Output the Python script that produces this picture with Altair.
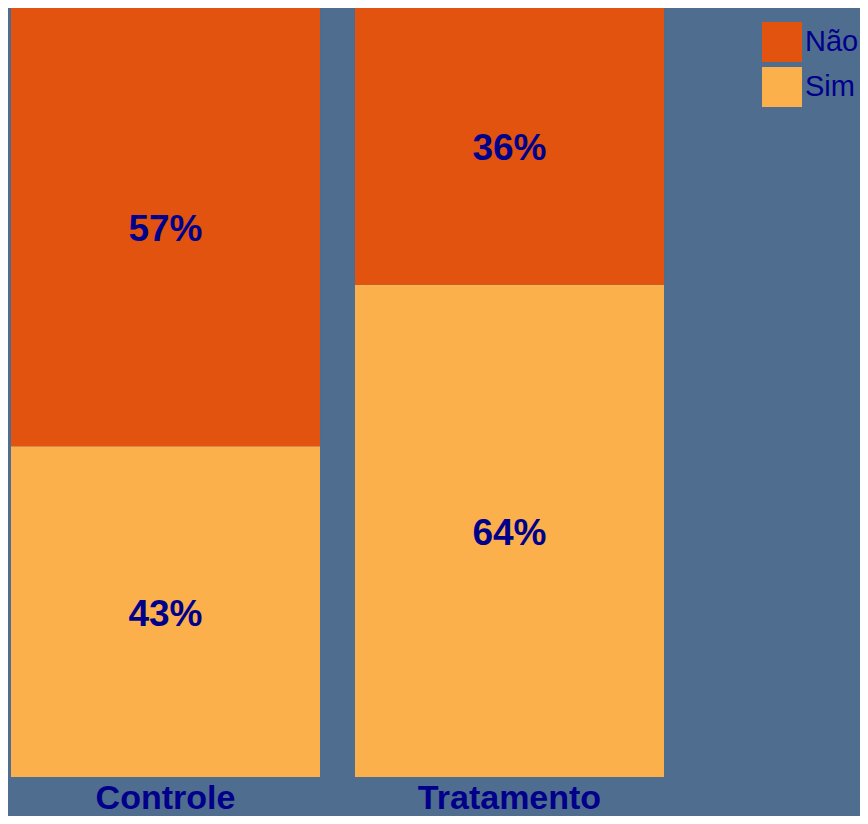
import altair as alt
import pandas as pd

groups = ["Controle", "Tratamento"]
nao = [57, 36]
sim = [43, 64]
respostas = ["Não", "Sim"]
colors = ["#E2530F", "#FCB04C"]

rows = []
for g, n, s in zip(groups, nao, sim):
    rows.append({"group": g, "resposta": "Sim", "pct": s, "ord": 0})
    rows.append({"group": g, "resposta": "Não", "pct": n, "ord": 1})
df = pd.DataFrame(rows)

navy = "#00008B"

base = alt.Chart(df).transform_stack(
    stack="pct", as_=["y0", "y1"], groupby=["group"], sort=[alt.SortField("ord")]
).transform_calculate(
    ymid="(datum.y0 + datum.y1) / 2",
    label="datum.pct + '%'"
)

x_enc = alt.X(
    "group:N",
    sort=groups,
    title=None,
    scale=alt.Scale(paddingInner=0.1017, paddingOuter=0.0087),
    axis=alt.Axis(labelAngle=0, labelFontSize=34, labelFontWeight="bold",
                  labelColor=navy, labelFont="Liberation Sans", domain=False,
                  ticks=False, labelPadding=4, labelLimit=0),
)

bars = base.mark_bar(stroke=None).encode(
    x=x_enc,
    y=alt.Y("y0:Q", scale=alt.Scale(domain=[0, 100]), axis=None),
    y2="y1:Q",
    color=alt.Color(
        "resposta:N",
        scale=alt.Scale(domain=respostas, range=colors),
        title=None,
        legend=alt.Legend(
            orient="none", legendX=754, legendY=14,
            symbolType="square", symbolSize=1600, symbolStrokeWidth=0,
            labelFontSize=29, labelColor=navy, labelFont="Liberation Sans",
            labelOffset=3, rowPadding=5,
        ),
    ),
)

texts = base.mark_text(
    fontSize=37, fontWeight="bold", color=navy, font="Liberation Sans",
    baseline="middle", dy=3
).encode(
    x=alt.X("group:N", sort=groups),
    y=alt.Y("ymid:Q"),
    text="label:N",
)

chart = alt.layer(bars, texts).properties(
    width=659, height=769,
    autosize=alt.AutoSizeParams(type="none"),
    padding={"left": 0, "top": 0, "right": 193, "bottom": 39},
    background="#4F6D8F",
).configure_view(stroke=None)

chart.save("out.html", embed_options={"renderer": "svg", "actions": False})
